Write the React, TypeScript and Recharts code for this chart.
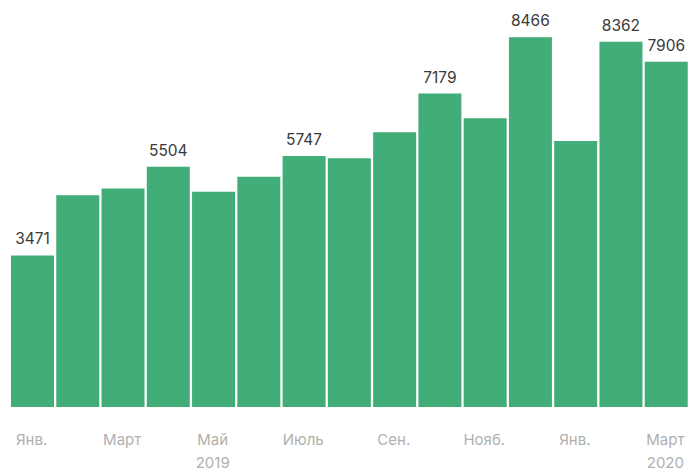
import { Bar, BarChart, LabelList, XAxis, YAxis } from "recharts";

const MONTHS = [
  "Янв.", "Фев.", "Март", "Апр.", "Май", "Июнь", "Июль", "Авг.",
  "Сен.", "Окт.", "Нояб.", "Дек.", "Янв.", "Фев.", "Март",
];
const YEARS = ["", "", "", "", "2019", "", "", "", "", "", "", "", "", "", "2020"];
const VALUES = [
  3471, 4850, 5005, 5504, 4930, 5275, 5747, 5695, 6290, 7179, 6610, 8466,
  6090, 8362, 7906,
];
const SHOWN_LABELS = [true, false, false, true, false, false, true, false, false, true, false, true, false, true, true];

const data = VALUES.map((v, i) => ({
  key: `m${i}`,
  value: v,
  label: SHOWN_LABELS[i] ? String(v) : "",
}));

const BAR_COLOR = "#41ad79";
const FONT = "Inter, 'Open Sans', sans-serif";

function MonthTick(props: any) {
  const { x, y, payload } = props;
  const i = payload.index;
  return (
    <g>
      <text x={x - 1} y={y + 30} textAnchor="middle" fill="#b0b0b0" fontSize={15} fontFamily={FONT}>
        {MONTHS[i]}
      </text>
      {YEARS[i] ? (
        <text x={x - 1} y={y + 53} textAnchor="middle" fill="#b0b0b0" fontSize={15} fontFamily={FONT}>
          {YEARS[i]}
        </text>
      ) : null}
    </g>
  );
}

function ValueLabel(props: any) {
  const { x, y, width, value } = props;
  if (!value) return null;
  return (
    <text x={x + width / 2} y={y - 11} textAnchor="middle" fill="#3a3a3a" fontSize={15.5} fontFamily={FONT}>
      {value}
    </text>
  );
}

export default function App() {
  return (
    <div style={{ position: "absolute", left: 0, top: 0, background: "#fff" }}>
      <BarChart
        width={689}
        height={472}
        data={data}
        margin={{ top: 14, right: 0, bottom: 5, left: 10 }}
        barCategoryGap={1}
      >
        <YAxis hide domain={[0, 9000]} />
        <XAxis
          dataKey="key"
          height={60}
          axisLine={false}
          tickLine={false}
          interval={1}
          tick={<MonthTick />}
        />
        <Bar dataKey="value" fill={BAR_COLOR} isAnimationActive={false}>
          <LabelList dataKey="label" content={<ValueLabel />} />
        </Bar>
      </BarChart>
    </div>
  );
}
